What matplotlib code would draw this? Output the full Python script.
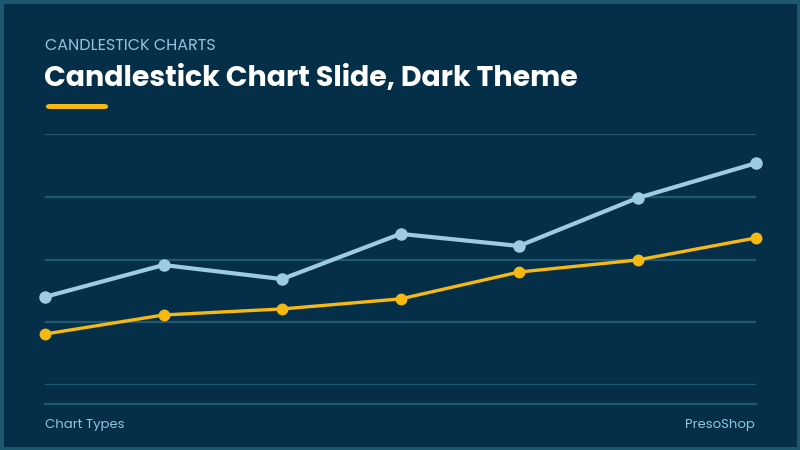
import matplotlib.pyplot as plt
from matplotlib.patches import Rectangle, FancyBboxPatch

# Data (arbitrary units, grid 0..100)
points = [0, 1, 2, 3, 4, 5, 6]
series_blue = [35.1, 47.8, 42.2, 60.2, 55.4, 74.5, 88.4]
series_gold = [20.3, 27.9, 30.3, 34.3, 45.0, 49.8, 58.6]
grid_values = [0, 25, 50, 75, 100]

bg = '#052f48'
border = '#1d5870'
grid_col = '#1f5a72'
blue = '#9dcbe4'
gold = '#f6b912'

plt.rcParams['font.family'] = ['Poppins', 'Open Sans', 'DejaVu Sans']

fig = plt.figure(figsize=(8, 4.5), dpi=100)
fig.patch.set_facecolor(bg)

# thin frame round the slide
fig.patches.append(Rectangle((0, 0), 1, 1, transform=fig.transFigure,
                             fill=False, edgecolor=border, linewidth=5))

# header texts
fig.text(45 / 800, 1 - 46 / 450, 'CANDLESTICK CHARTS', color='#8fc3df',
         fontsize=11.5, va='center', ha='left')
fig.text(44 / 800, 1 - 79 / 450, 'Candlestick Chart Slide, Dark Theme',
         color='white', fontsize=20.5, fontweight='bold', va='center', ha='left')
fig.patches.append(FancyBboxPatch((46 / 800, 1 - 109 / 450), 62 / 800, 5 / 450,
                                  boxstyle='round,pad=0,rounding_size=0.005',
                                  transform=fig.transFigure, facecolor=gold,
                                  edgecolor='none'))

# footer
fig.text(45 / 800, 1 - 425 / 450, 'Chart Types', color='#8fc3df',
         fontsize=9.5, va='center', ha='left')
fig.text(755 / 800, 1 - 425 / 450, 'PresoShop', color='#8fc3df',
         fontsize=9.5, va='center', ha='right')
fig.add_artist(plt.Line2D([45 / 800, 756 / 800], [1 - 404 / 450, 1 - 404 / 450],
                          color=grid_col, linewidth=1.6))

# plot area
ax = fig.add_axes([45 / 800, 1 - 385 / 450, 711 / 800, 251 / 450])
ax.set_facecolor('none')
ax.set_xlim(0, 6)
ax.set_ylim(0, 100)
for g in grid_values:
    ax.axhline(g, color=grid_col, linewidth=1.6, zorder=1)

ax.plot(points, series_blue, color=blue, linewidth=3, marker='o',
        markersize=8, clip_on=False, zorder=3)
ax.plot(points, series_gold, color=gold, linewidth=2.4, marker='o',
        markersize=7.5, clip_on=False, zorder=3)

ax.set_xticks([])
ax.set_yticks([])
for s in ax.spines.values():
    s.set_visible(False)

fig.savefig('out.png', dpi=100, facecolor=bg)
